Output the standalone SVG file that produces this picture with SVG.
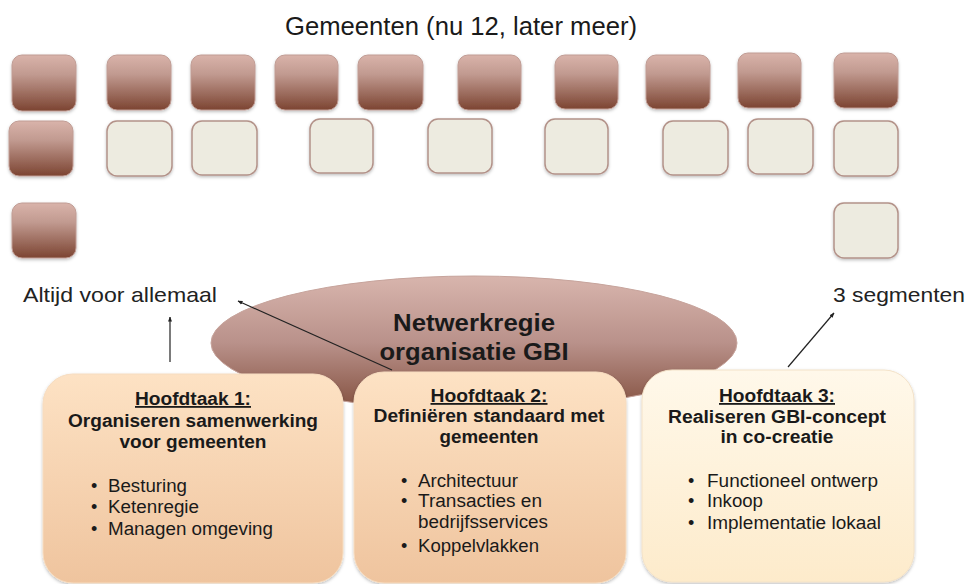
<svg xmlns="http://www.w3.org/2000/svg" width="969" height="584" viewBox="0 0 969 584">
<defs>
<linearGradient id="gBrown" x1="0" y1="0" x2="0" y2="1">
<stop offset="0" stop-color="#d9b3aa"/>
<stop offset="0.35" stop-color="#c19a90"/>
<stop offset="1" stop-color="#7c4432"/>
</linearGradient>
<linearGradient id="gEll" x1="0" y1="0" x2="0" y2="1">
<stop offset="0" stop-color="#d8b5ad"/>
<stop offset="0.5" stop-color="#b9918a"/>
<stop offset="1" stop-color="#83503f"/>
</linearGradient>
<linearGradient id="gPeach" x1="0" y1="0" x2="0" y2="1">
<stop offset="0" stop-color="#fde2c4"/>
<stop offset="1" stop-color="#efc49e"/>
</linearGradient>
<linearGradient id="gCream" x1="0" y1="0" x2="0" y2="1">
<stop offset="0" stop-color="#fff8ea"/>
<stop offset="1" stop-color="#fdebcb"/>
</linearGradient>
<filter id="sh" x="-10%" y="-10%" width="120%" height="125%">
<feDropShadow dx="0" dy="1.5" stdDeviation="1.5" flood-color="#000" flood-opacity="0.25"/>
</filter>
<marker id="ah" viewBox="0 0 10 10" refX="9" refY="5" markerWidth="5" markerHeight="5" orient="auto-start-reverse" markerUnits="userSpaceOnUse">
<path d="M0,1 L10,5 L0,9 z" fill="#222"/>
</marker>
<style>
.b{fill:url(#gBrown);stroke:#c09c94;stroke-width:1;filter:url(#sh)}
.l{fill:#edebe0;stroke:#b39289;stroke-width:1.5;filter:url(#sh)}
text{font-family:"Liberation Sans",Arial,sans-serif;fill:#1a1a1a}
.h{font-weight:bold;font-size:18px;text-anchor:middle}
.u{text-decoration:underline}
.t{font-size:18px}
.lab{font-size:21px;fill:#222}
.c{stroke:#222;stroke-width:1.2;fill:none;marker-end:url(#ah)}
</style>
</defs>
<rect width="969" height="584" fill="#fff"/>

<text x="461" y="35" font-size="26" text-anchor="middle" textLength="352" lengthAdjust="spacingAndGlyphs" fill="#222">Gemeenten (nu 12, later meer)</text>

<g id="gemeenten">
<rect class="b" x="12" y="55" width="64" height="56" rx="10"/>
<rect class="b" x="107" y="55" width="64" height="55" rx="10"/>
<rect class="b" x="191" y="55" width="64" height="55" rx="10"/>
<rect class="b" x="275" y="55" width="63" height="55" rx="10"/>
<rect class="b" x="358" y="55" width="65" height="55" rx="10"/>
<rect class="b" x="458" y="55" width="63" height="55" rx="10"/>
<rect class="b" x="555" y="55" width="63" height="54" rx="10"/>
<rect class="b" x="646" y="55" width="64" height="54" rx="10"/>
<rect class="b" x="738" y="53" width="63" height="55" rx="10"/>
<rect class="b" x="834" y="53" width="64" height="55" rx="10"/>

<rect class="b" x="9" y="121" width="64" height="55" rx="10"/>
<rect class="l" x="107" y="121" width="65" height="55" rx="10"/>
<rect class="l" x="192" y="121" width="65" height="54" rx="10"/>
<rect class="l" x="310" y="119" width="63" height="54" rx="10"/>
<rect class="l" x="428" y="119" width="64" height="54" rx="10"/>
<rect class="l" x="545" y="119" width="63" height="55" rx="10"/>
<rect class="l" x="663" y="121" width="65" height="54" rx="10"/>
<rect class="l" x="748" y="119" width="65" height="55" rx="10"/>
<rect class="l" x="834" y="121" width="64" height="55" rx="10"/>

<rect class="b" x="12" y="203" width="64" height="55" rx="10"/>
<rect class="l" x="834" y="203" width="64" height="55" rx="10"/>
</g>

<g id="netwerkregie">
<ellipse cx="474" cy="343" rx="263" ry="67" fill="url(#gEll)" stroke="#c7a49c" stroke-width="1"/>
<text x="474" y="331" font-size="23" font-weight="bold" text-anchor="middle" textLength="162" lengthAdjust="spacingAndGlyphs">Netwerkregie</text>
<text x="474" y="360" font-size="23" font-weight="bold" text-anchor="middle" textLength="189" lengthAdjust="spacingAndGlyphs">organisatie GBI</text>
</g>

<g id="label-altijd">
<text class="lab" x="23" y="302" textLength="194" lengthAdjust="spacingAndGlyphs">Altijd voor allemaal</text>
</g>
<g id="label-segmenten">
<text class="lab" x="833" y="302" textLength="132" lengthAdjust="spacingAndGlyphs">3 segmenten</text>
</g>

<g id="hoofdtaak1">
<rect x="43" y="374" width="300" height="209" rx="30" fill="url(#gPeach)" stroke="#f6dcc0" stroke-width="1" filter="url(#sh)"/>
<text class="h u" x="193" y="405" textLength="116" lengthAdjust="spacingAndGlyphs">Hoofdtaak 1:</text>
<text class="h" x="193" y="427" textLength="250" lengthAdjust="spacingAndGlyphs">Organiseren samenwerking</text>
<text class="h" x="193" y="448" textLength="147" lengthAdjust="spacingAndGlyphs">voor gemeenten</text>
<text class="t" x="91" y="492">•</text>
<text class="t" x="108" y="492" textLength="79" lengthAdjust="spacingAndGlyphs">Besturing</text>
<text class="t" x="91" y="513">•</text>
<text class="t" x="108" y="513" textLength="91" lengthAdjust="spacingAndGlyphs">Ketenregie</text>
<text class="t" x="91" y="535">•</text>
<text class="t" x="108" y="535" textLength="165" lengthAdjust="spacingAndGlyphs">Managen omgeving</text>
</g>

<g id="hoofdtaak2">
<rect x="354" y="372" width="272" height="211" rx="30" fill="url(#gPeach)" stroke="#f6dcc0" stroke-width="1" filter="url(#sh)"/>
<text class="h u" x="489" y="402" textLength="117" lengthAdjust="spacingAndGlyphs">Hoofdtaak 2:</text>
<text class="h" x="489" y="422" textLength="231" lengthAdjust="spacingAndGlyphs">Definiëren standaard met</text>
<text class="h" x="489" y="443" textLength="99" lengthAdjust="spacingAndGlyphs">gemeenten</text>
<text class="t" x="401" y="487">•</text>
<text class="t" x="418" y="487" textLength="100" lengthAdjust="spacingAndGlyphs">Architectuur</text>
<text class="t" x="401" y="507">•</text>
<text class="t" x="418" y="507" textLength="124" lengthAdjust="spacingAndGlyphs">Transacties en</text>
<text class="t" x="418" y="528" textLength="130" lengthAdjust="spacingAndGlyphs">bedrijfsservices</text>
<text class="t" x="401" y="552">•</text>
<text class="t" x="418" y="552" textLength="121" lengthAdjust="spacingAndGlyphs">Koppelvlakken</text>
</g>

<g id="hoofdtaak3">
<rect x="642" y="370" width="272" height="212" rx="30" fill="url(#gCream)" stroke="#f3e2c8" stroke-width="1" filter="url(#sh)"/>
<text class="h u" x="777" y="402" textLength="116" lengthAdjust="spacingAndGlyphs">Hoofdtaak 3:</text>
<text class="h" x="777" y="423" textLength="218" lengthAdjust="spacingAndGlyphs">Realiseren GBI-concept</text>
<text class="h" x="777" y="443" textLength="113" lengthAdjust="spacingAndGlyphs">in co-creatie</text>
<text class="t" x="688" y="487">•</text>
<text class="t" x="707" y="487" textLength="171" lengthAdjust="spacingAndGlyphs">Functioneel ontwerp</text>
<text class="t" x="688" y="507">•</text>
<text class="t" x="707" y="507" textLength="56" lengthAdjust="spacingAndGlyphs">Inkoop</text>
<text class="t" x="688" y="529">•</text>
<text class="t" x="707" y="529" textLength="174" lengthAdjust="spacingAndGlyphs">Implementatie lokaal</text>
</g>

<g id="connectors">
<line class="c" x1="170" y1="362" x2="170" y2="317"/>
<line class="c" x1="392" y1="370" x2="238" y2="301"/>
<line class="c" x1="788" y1="367" x2="834" y2="313"/>
</g>
</svg>
